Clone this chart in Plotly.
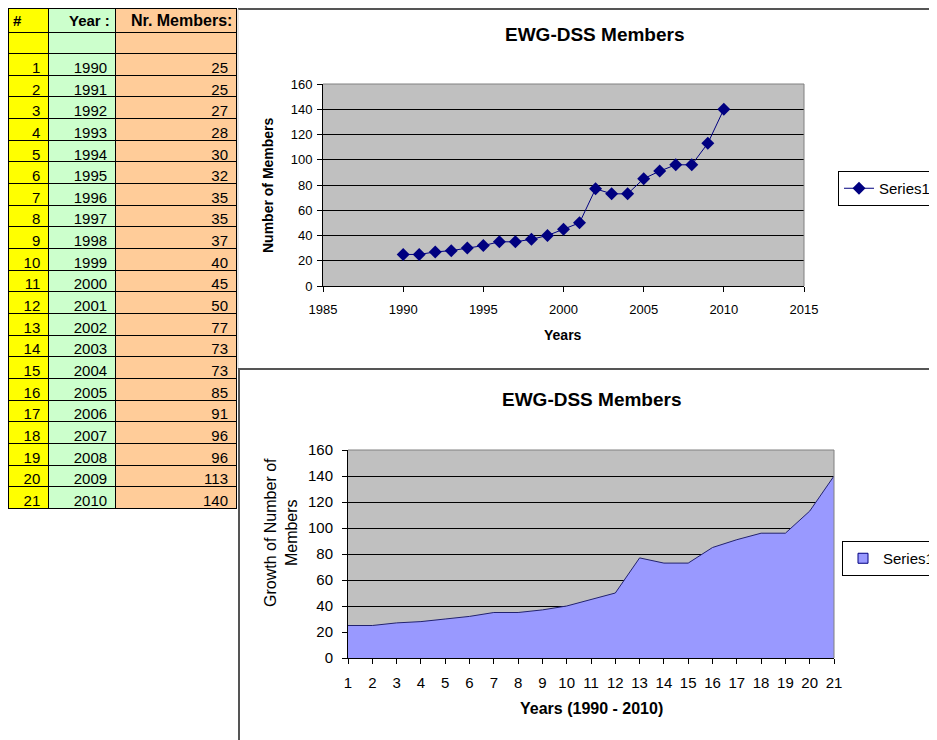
import plotly.graph_objects as go

idx = list(range(1, 22))
years = [1990, 1991, 1992, 1993, 1994, 1995, 1996, 1997, 1998, 1999, 2000,
         2001, 2002, 2003, 2004, 2005, 2006, 2007, 2008, 2009, 2010]
members = [25, 25, 27, 28, 30, 32, 35, 35, 37, 40, 45, 50, 77, 73, 73, 85, 91, 96, 96, 113, 140]
headers = ["#", "Year :", "Nr. Members:"]
title = "EWG-DSS Members"
series_name = "Series1"

W, H = 937, 740
OX, OY = 8, 8  # page body margin offset
def px(x): return (x - OX) / W
def py(y): return 1 - (y - OY) / H

FONT = "Liberation Sans, Arial, sans-serif"
COLFILL = ["#FFFF00", "#CCFFCC", "#FFCC99"]
fig = go.Figure()

# Table (header cells drawn by the table, header labels placed as text on top)
fig.add_trace(go.Table(
    domain=dict(x=[0, px(236)], y=[py(560), 1]),
    columnwidth=[41, 68, 123],
    header=dict(values=["", "", ""], fill_color=COLFILL,
                line=dict(color="black", width=1),
                font=dict(family=FONT, size=6, color="black"), height=24),
    cells=dict(values=[[""] + idx, [""] + years, [""] + members],
               fill_color=COLFILL,
               line=dict(color="black", width=1),
               align="right",
               font=dict(family=FONT, size=15, color="black"),
               height=21.65),
))

# Chart 1: line with diamonds
fig.add_trace(go.Scatter(
    x=years, y=members, mode="lines+markers", name=series_name,
    line=dict(color="#000080", width=1),
    marker=dict(symbol="diamond", size=10, color="#000080"),
    xaxis="x", yaxis="y", legend="legend"))

# Chart 2: area
fig.add_trace(go.Scatter(
    x=idx, y=members, mode="lines", name=series_name, fill="tozeroy",
    fillcolor="#9999FF", line=dict(color="#22226e", width=1),
    xaxis="x2", yaxis="y2", showlegend=False))
fig.add_trace(go.Scatter(
    x=[None], y=[None], mode="markers", name=series_name,
    marker=dict(symbol="square", size=10, color="#9999FF", line=dict(color="#000080", width=1)),
    xaxis="x2", yaxis="y2", legend="legend2"))

def axstyle(size, standoff):
    return dict(showline=True, linecolor="black", linewidth=1, ticks="outside",
                ticklen=5, tickcolor="black", zeroline=False, automargin=False,
                ticklabelstandoff=standoff,
                tickfont=dict(family=FONT, size=size, color="black"))

fig.update_layout(
    width=W, height=H, autosize=False,
    margin=dict(l=0, r=0, t=0, b=0, autoexpand=False),
    paper_bgcolor="white", plot_bgcolor="#C0C0C0",
    font=dict(family=FONT, color="black"),
    xaxis=dict(domain=[px(323), px(804)], range=[1985, 2015], dtick=5, tick0=1985,
               showgrid=False, anchor="y", **axstyle(13, 6)),
    yaxis=dict(domain=[py(286), py(84)], range=[0, 160], dtick=20, showgrid=True,
               gridcolor="black", gridwidth=1, anchor="x", **axstyle(13, 2)),
    xaxis2=dict(domain=[px(348), px(834)], range=[1, 21], tickvals=idx,
                showgrid=False, anchor="y2", **axstyle(15, 6)),
    yaxis2=dict(domain=[py(658), py(450)], range=[0, 160], dtick=20, showgrid=True,
                gridcolor="black", gridwidth=1, anchor="x2", **axstyle(15, 6)),
    legend=dict(x=px(838), y=py(171), xanchor="left", yanchor="top",
                bordercolor="black", borderwidth=1, bgcolor="white",
                font=dict(family=FONT, size=15)),
    legend2=dict(x=px(842), y=py(541), xanchor="left", yanchor="top",
                 bordercolor="black", borderwidth=1, bgcolor="white",
                 font=dict(family=FONT, size=15)),
    showlegend=True,
)

ann = [
    dict(text="<b>" + title + "</b>", x=px(594), y=py(35), size=19, angle=0, xa="center"),
    dict(text="<b>Number of Members</b>", x=px(268), y=py(185), size=14, angle=-90, xa="center"),
    dict(text="<b>Years</b>", x=px(563), y=py(335), size=14, angle=0, xa="center"),
    dict(text="<b>" + title + "</b>", x=px(591), y=py(399), size=19, angle=0, xa="center"),
    dict(text="Growth of Number of<br>Members", x=px(281), y=py(533), size=16, angle=-90, xa="center"),
    dict(text="<b>Years (1990 - 2010)</b>", x=px(591), y=py(708), size=16, angle=0, xa="center"),
    dict(text="<b>" + headers[0] + "</b>", x=px(11), y=py(20), size=15, angle=0, xa="left"),
    dict(text="<b>" + headers[1] + "</b>", x=px(112), y=py(20), size=15, angle=0, xa="right"),
    dict(text="<b>" + headers[2] + "</b>", x=px(234), y=py(20), size=16, angle=0, xa="right"),
]
for a in ann:
    fig.add_annotation(text=a["text"], x=a["x"], y=a["y"], xref="paper", yref="paper",
                       showarrow=False, textangle=a["angle"], xanchor=a["xa"], yanchor="middle",
                       font=dict(family=FONT, size=a["size"], color="black"))

# frame lines and plot-area borders
lines = [
    (238, 9, 937, 9, "#555555", 2),
    (238, 9, 238, 369, "#CCCCCC", 1),
    (238, 369, 937, 369, "#555555", 2),
    (239, 369, 239, 740, "#555555", 2),
    (323, 84, 804, 84, "#808080", 1),
    (804, 84, 804, 286, "#808080", 1),
    (348, 450, 834, 450, "#808080", 1),
    (834, 450, 834, 658, "#808080", 1),
]
for x0, y0, x1, y1, c, w in lines:
    fig.add_shape(type="line", xref="paper", yref="paper", x0=px(x0), y0=py(y0),
                  x1=px(x1), y1=py(y1), line=dict(color=c, width=w))

fig.write_html("out.html")
